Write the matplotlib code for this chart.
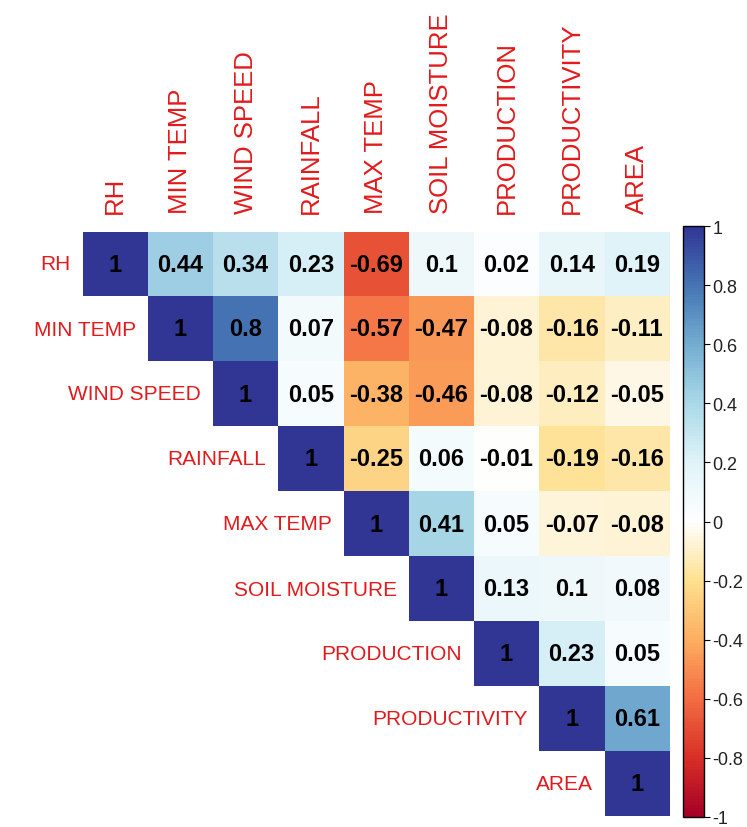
import numpy as np
import matplotlib.pyplot as plt
from matplotlib.colors import LinearSegmentedColormap

# Variable names (rows and columns)
labels = ["RH", "MIN TEMP", "WIND SPEED", "RAINFALL", "MAX TEMP",
          "SOIL MOISTURE", "PRODUCTION", "PRODUCTIVITY", "AREA"]

# Upper-triangle correlations, one list per row starting at the diagonal
row_rh = [1, 0.44, 0.34, 0.23, -0.69, 0.1, 0.02, 0.14, 0.19]
row_min_temp = [1, 0.8, 0.07, -0.57, -0.47, -0.08, -0.16, -0.11]
row_wind_speed = [1, 0.05, -0.38, -0.46, -0.08, -0.12, -0.05]
row_rainfall = [1, -0.25, 0.06, -0.01, -0.19, -0.16]
row_max_temp = [1, 0.41, 0.05, -0.07, -0.08]
row_soil_moisture = [1, 0.13, 0.1, 0.08]
row_production = [1, 0.23, 0.05]
row_productivity = [1, 0.61]
row_area = [1]

rows = [row_rh, row_min_temp, row_wind_speed, row_rainfall, row_max_temp,
        row_soil_moisture, row_production, row_productivity, row_area]

cbar_ticks = [-1, -0.8, -0.6, -0.4, -0.2, 0, 0.2, 0.4, 0.6, 0.8, 1]

n = len(labels)
corr = np.full((n, n), np.nan)
for i, r in enumerate(rows):
    corr[i, i:] = r
masked = np.ma.masked_invalid(corr)

# RdYlBu with a white centre
cmap = LinearSegmentedColormap.from_list("rdylbu_w", [
    "#a50026", "#d73027", "#f46d43", "#fdae61", "#fee090", "#ffffff",
    "#e0f3f8", "#abd9e9", "#74add1", "#4575b4", "#313695"], N=200)
cmap.set_bad("white")

plt.rcParams["font.family"] = ["Liberation Sans", "DejaVu Sans"]
lab_col = "#e31a1c"

W, H = 747, 828
fig = plt.figure(figsize=(W / 100, H / 100), dpi=100)
ax = fig.add_axes([82.5 / W, (H - 817.5) / H, 587 / W, 585 / H])
im = ax.imshow(masked, cmap=cmap, vmin=-1, vmax=1, aspect="auto",
               interpolation="nearest")
ax.set_xlim(-0.5, n - 0.5)
ax.set_ylim(n - 0.5, -0.5)
ax.axis("off")

for i in range(n):
    for j in range(i, n):
        v = round(corr[i, j], 2)
        ax.text(j, i, f"{v:g}", ha="center", va="center", fontsize=17,
                fontweight="bold", color="black")
    # row label, left of the diagonal cell
    ax.text(i - 0.5 - 0.18, i, labels[i], ha="right", va="center",
            fontsize=15, color=lab_col, clip_on=False)
    # column label, above the grid
    ax.text(i, -0.5 - 0.28, labels[i], ha="center", va="bottom",
            rotation=90, fontsize=18.5, color=lab_col, clip_on=False)

cax = fig.add_axes([683 / W, (H - 818) / H, 21 / W, 591 / H])
cb = fig.colorbar(im, cax=cax, ticks=cbar_ticks)
cb.outline.set_edgecolor("black")
cb.outline.set_linewidth(1)
cax.tick_params(length=4, width=0.8, pad=2, labelsize=13, labelcolor="#222222")
cax.set_yticklabels([f"{t:g}" for t in cbar_ticks])

fig.savefig("out.png", dpi=100)
